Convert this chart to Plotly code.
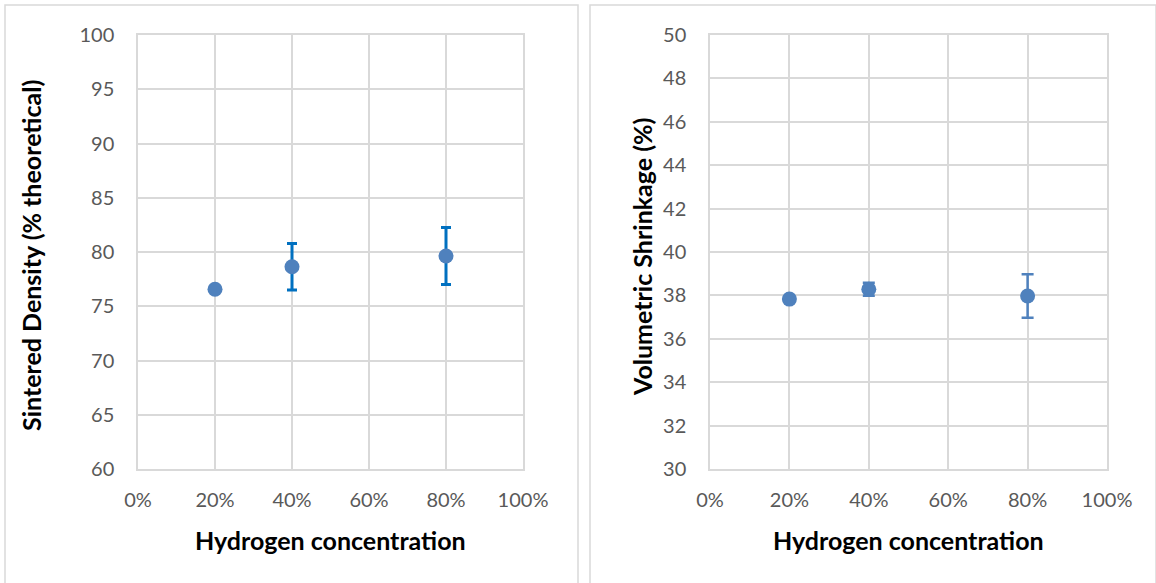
import plotly.graph_objects as go

W, H = 1156, 583

# Data
h2 = [0.2, 0.4, 0.8]
density = [76.56, 78.64, 79.63]
density_err = [0.0, 2.15, 2.63]
shrink = [37.83, 38.28, 37.97]
shrink_err = [0.0, 0.3, 1.0]
x_ticks = [0, 0.2, 0.4, 0.6, 0.8, 1.0]

grid = "#D9D9D9"
tick_font = dict(family="Lato", size=20, color="#595959")
title_font = dict(family="Lato", size=25, color="#000000")
mcolor = "#4F81BD"

fig = go.Figure()
fig.add_trace(go.Scatter(
    x=h2, y=density, mode="markers",
    marker=dict(color=mcolor, size=15),
    error_y=dict(type="data", array=density_err, color="#0070C0", thickness=3, width=5, visible=True),
    xaxis="x", yaxis="y", showlegend=False))
fig.add_trace(go.Scatter(
    x=h2, y=shrink, mode="markers",
    marker=dict(color=mcolor, size=15),
    error_y=dict(type="data", array=shrink_err, color=mcolor, thickness=2.5, width=6, visible=True),
    xaxis="x2", yaxis="y2", showlegend=False))

def px(x):
    return x / W

def py(y):
    return 1 - y / H

ydom = [py(469), py(35)]
ax_common = dict(showgrid=True, gridcolor=grid, gridwidth=1.5, zeroline=False,
                 showline=True, linecolor=grid, linewidth=1.5, mirror=True,
                 ticks="", tickfont=tick_font, fixedrange=True, automargin=False)

fig.update_layout(
    width=W, height=H, margin=dict(l=0, r=0, t=0, b=0, autoexpand=False),
    paper_bgcolor="white", plot_bgcolor="white",
    xaxis=dict(domain=[px(138), px(523)], range=[0, 1], tickvals=x_ticks, tickformat=".0%",
               anchor="y", ticklabelstandoff=12, **ax_common),
    yaxis=dict(domain=ydom, range=[60, 100], dtick=5, anchor="x", ticklabelstandoff=18, **ax_common),
    xaxis2=dict(domain=[px(710), px(1107)], range=[0, 1], tickvals=x_ticks, tickformat=".0%",
                anchor="y2", ticklabelstandoff=12, **ax_common),
    yaxis2=dict(domain=ydom, range=[30, 50], dtick=2, anchor="x2", ticklabelstandoff=18, **ax_common),
)

# Panel borders (open at bottom / right edge, as in the reference)
for x0, x1 in [(5, 578), (590, 1156)]:
    fig.add_shape(type="path", xref="paper", yref="paper",
                  path=f"M {px(x0)},0 L {px(x0)},{py(5)} L {px(x1)},{py(5)} L {px(x1)},0",
                  line=dict(color=grid, width=1.5), layer="below")

# Axis titles
common_ann = dict(xref="paper", yref="paper", showarrow=False, font=title_font,
                  xanchor="center", yanchor="middle")
fig.add_annotation(text="<b>Hydrogen concentration</b>", x=px(330), y=py(540), **common_ann)
fig.add_annotation(text="<b>Hydrogen concentration</b>", x=px(908), y=py(540), **common_ann)
fig.add_annotation(text="<b>Sintered Density (% theoretical)</b>", x=px(31), y=py(256),
                   textangle=-90, **common_ann)
fig.add_annotation(text="<b>Volumetric Shrinkage (%)</b>", x=px(642), y=py(257),
                   textangle=-90, **common_ann)

fig.write_html("out.html")
